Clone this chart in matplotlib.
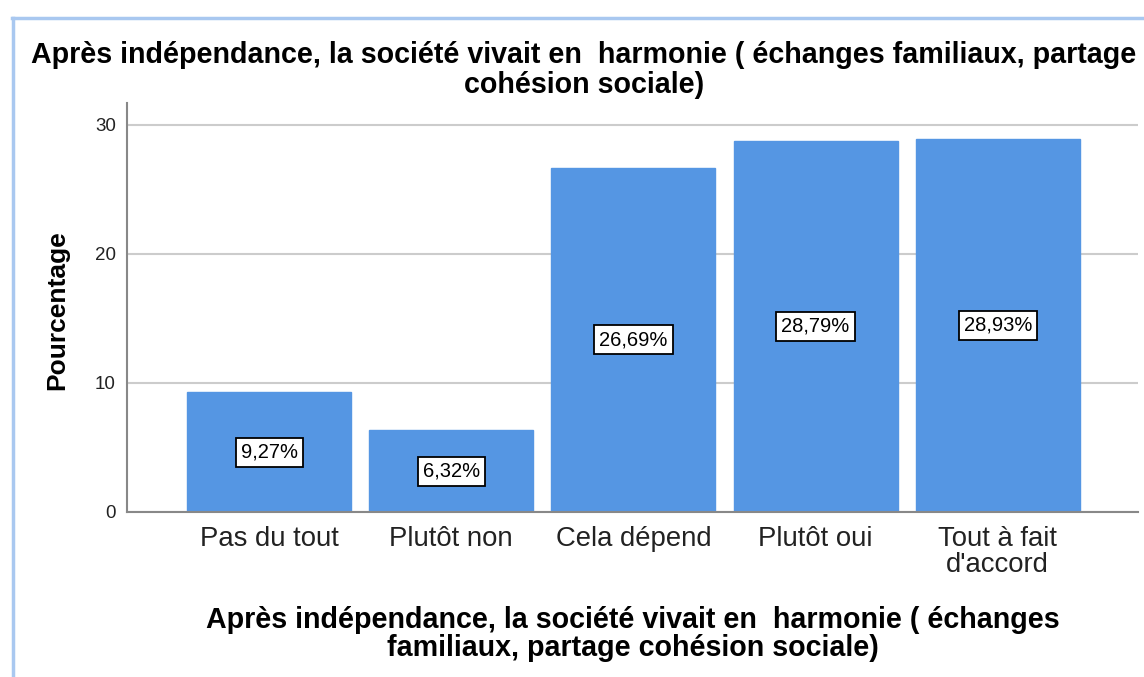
import matplotlib
matplotlib.use("Agg")
import matplotlib.pyplot as plt
from matplotlib.lines import Line2D

plt.rcParams['font.family'] = ['Liberation Sans', 'DejaVu Sans']

categories = ["Pas du tout", "Plutôt non", "Cela dépend", "Plutôt oui", "Tout à fait\nd'accord"]
values = [9.27, 6.32, 26.69, 28.79, 28.93]
value_labels = ["9,27%", "6,32%", "26,69%", "28,79%", "28,93%"]
yticks = [0, 10, 20, 30]
title = "Après indépendance, la société vivait en  harmonie ( échanges familiaux, partage\ncohésion sociale)"
xlabel = "Après indépendance, la société vivait en  harmonie ( échanges\nfamiliaux, partage cohésion sociale)"
ylabel = "Pourcentage"

W, H = 1144, 677
fig = plt.figure(figsize=(W / 100, H / 100), dpi=100)
ax = fig.add_axes([127 / W, 1 - 512 / H, (1138 - 127) / W, (512 - 103) / H])

x = list(range(len(categories)))
ax.bar(x, values, width=0.9, color="#5596e3", edgecolor="#5596e3", zorder=3)
ax.set_xlim(-0.78, 4.77)
ax.set_ylim(0, 31.7)
ax.set_yticks(yticks)
ax.set_yticklabels([str(t) for t in yticks], fontsize=13.5, color="#222222")
ax.set_xticks(x)
ax.set_xticklabels(categories, fontsize=19.8, color="#222222", linespacing=1.02)
ax.tick_params(axis="both", length=0)
ax.tick_params(axis="x", pad=10)
ax.tick_params(axis="y", pad=8)
ax.grid(axis="y", color="#cccccc", linewidth=1.5, zorder=0)
for s in ["top", "right"]:
    ax.spines[s].set_visible(False)
for s in ["left", "bottom"]:
    ax.spines[s].set_color("#888888")
    ax.spines[s].set_linewidth(1.5)
    ax.spines[s].set_zorder(4)

for xi, v, lab in zip(x, values, value_labels):
    ax.text(xi, v / 2, lab, ha="center", va="center", fontsize=14.5, color="black", zorder=5,
            bbox=dict(boxstyle="square,pad=0.25", facecolor="white", edgecolor="black", linewidth=1.3))

fig.text(584 / W, 1 - 70 / H, title, ha="center", va="center", fontsize=20.6,
         fontweight="bold", linespacing=1.05)
fig.text(633 / W, 1 - 634 / H, xlabel, ha="center", va="center", fontsize=20.6,
         fontweight="bold", linespacing=1.02)
fig.text(57 / W, 1 - 310 / H, ylabel, ha="center", va="center", fontsize=19,
         fontweight="bold", rotation=90)

# light blue frame
fig.add_artist(Line2D([12 / W, 1.0], [1 - 18 / H, 1 - 18 / H], transform=fig.transFigure,
                      color="#a9c8f0", linewidth=2.5))
fig.add_artist(Line2D([13 / W, 13 / W], [1 - 18 / H, 0.0], transform=fig.transFigure,
                      color="#a9c8f0", linewidth=2.5))

fig.savefig("out.png", dpi=100)
